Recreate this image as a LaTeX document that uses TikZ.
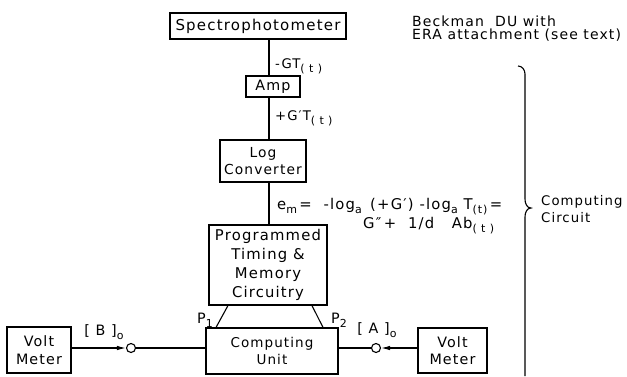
\documentclass[tikz,border=0pt]{standalone}
\usepackage{fontspec}
\setmainfont{DejaVu Sans}[LetterSpace=8]
\usetikzlibrary{arrows.meta}
\newcommand{\lsub}[1]{\raisebox{-0.5ex}{\fontsize{11}{11}\selectfont #1}}
\tikzset{
  fs/.style={font=\fontsize{#1}{17.5}\selectfont},
  txt/.style={fs=13.25, inner sep=0pt, align=center},
  box/.style={txt, draw, line width=1.1pt},
  lbl/.style={fs=13.25, inner sep=0pt, align=left},
  wire/.style={line width=1.1pt},
  tipline/.style={line width=1.1pt, -{Latex[length=9pt,width=4.5pt]}},
  port/.style={circle, draw, line width=1.1pt, fill=white, minimum size=9pt, inner sep=0pt}
}
\begin{document}
\begin{tikzpicture}[x=1pt, y=-1pt]
\useasboundingbox (0,0) rectangle (627,376);
% boxes
\node[box, fs=15, minimum width=176pt, minimum height=26pt] (spec) at (258,26) {Spectrophotometer};
\node[box, fs=14.3, minimum width=54pt, minimum height=21pt] (amp) at (273,86.5) {Amp};
\node[box, fs=13.8, minimum width=86pt, minimum height=42pt] (log) at (263,161) {Log\\Converter};
\node[box, font=\fontsize{14.8}{19}\selectfont, minimum width=118pt, minimum height=80pt] (prog) at (268,265) {Programmed\\Timing \&\\Memory\\Circuitry};
\node[box, fs=13.5, minimum width=132pt, minimum height=46pt, text depth=0pt] (cu) at (272,351) {Computing\\Unit};
\node[box, fs=14.3, minimum width=64pt, minimum height=46pt] (vl) at (39,350) {Volt\\Meter};
\node[box, fs=14.3, minimum width=69pt, minimum height=45pt] (vr) at (452.5,350.5) {Volt\\Meter};
% trunk
\coordinate (trunk) at (269,0);
\draw[wire] (spec.south -| trunk) -- (amp.north -| trunk);
\draw[wire] (amp.south -| trunk) -- (log.north -| trunk);
\draw[wire] (log.south -| trunk) -- (prog.north -| trunk);
% P lines
\coordinate (p1a) at (228,306);
\coordinate (p1b) at (216,328);
\coordinate (p2a) at (312,306);
\coordinate (p2b) at (323,328);
\draw[wire] (p1a |- prog.south) -- (p1b |- cu.north);
\draw[wire] (p2a |- prog.south) -- (p2b |- cu.north);
\node[lbl, fs=14.3] (P1) at (205,320) {P\lsub{1}};
\node[lbl, fs=14.3] (P2) at (339,320) {P\lsub{2}};
% ports
\node[port] (cL) at (131,348) {};
\node[port] (cR) at (376,348) {};
\draw[tipline] (vl.east |- cL) -- (cL);
\draw[wire] (cL) -- (cu.west |- cL);
\draw[tipline] (vr.west |- cR) -- (cR);
\draw[wire] (cR) -- (cu.east |- cR);
\node[lbl, fs=14.3] (B0) at (104,332) {[ B ]\lsub{o}};
\node[lbl, fs=14.3] (A0) at (377,330) {[ A ]\lsub{o}};
% signal labels
\node[lbl, anchor=west] (s1) at (275,66) {-GT\lsub{( t )}};
\node[lbl, anchor=west] (s2) at (275,118) {+G′T\lsub{( t )}};
\node[lbl, fs=14.8, anchor=west] (em1) at (277,207) {e\lsub{m}\,= \ -log\lsub{a} \,(+G′) -log\lsub{a} T\lsub{(t)}\,=};
\node[lbl, fs=14.8, anchor=west] (em2) at (363,226) {G″\,+ \ 1/d \ \ Ab\lsub{( t )}};
% notes
\node[lbl, fs=14, anchor=west] (beck) at (412,21) {Beckman \ DU with};
\node[lbl, fs=14, anchor=west] (era) at (412,35) {ERA attachment (see text)};
% brace
\draw[line width=1.1pt] (518,66) to[out=0,in=90] (525,74) -- (525,199)
  to[out=-90,in=180] (531,208) to[out=180,in=90] (525,217) -- (525,376);
\node[lbl, anchor=west] (cc) at (541,209) {Computing\\Circuit};
\end{tikzpicture}
\end{document}
